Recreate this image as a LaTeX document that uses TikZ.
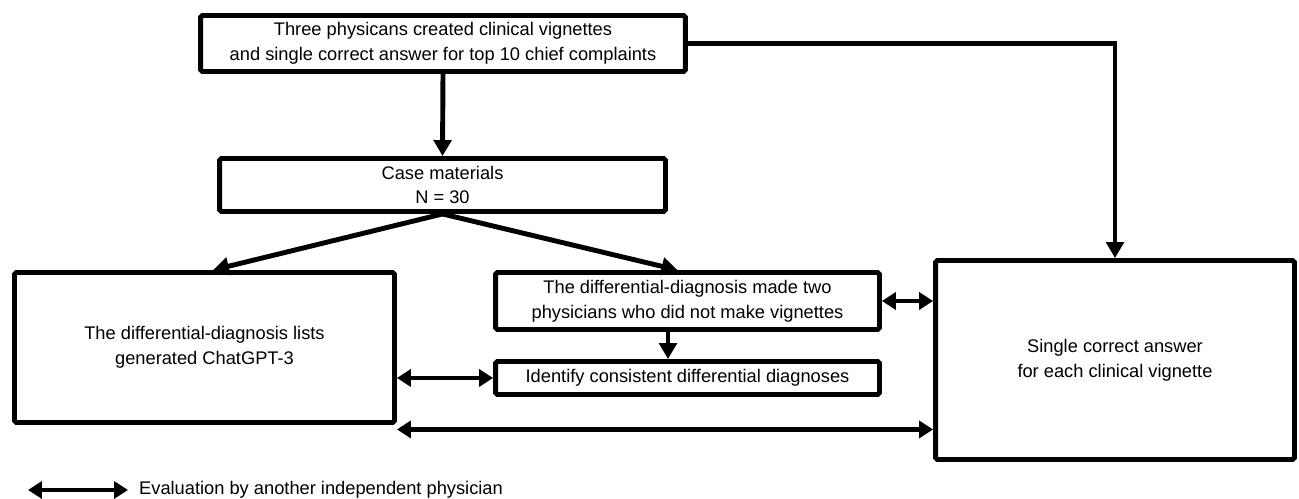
\documentclass[tikz,border=0pt]{standalone}
\usepackage{fontspec}
\setmainfont{Liberation Sans}
\usetikzlibrary{arrows.meta, positioning}

\begin{document}
\begin{tikzpicture}[
    x=0.02cm,
    y=-0.02cm,
    font=\fontsize{10.4}{14}\selectfont,
    box/.style={
        draw,
        line width=2.8pt,
        rounded corners=1pt,
        fill=white,
        align=center,
        inner sep=0pt
    },
    arr/.style={
        -{Triangle[length=3.2mm, width=3.5mm]},
        line width=2.8pt
    },
    both/.style={
        {Triangle[length=2.8mm, width=3.4mm]}-{Triangle[length=2.8mm, width=3.4mm]},
        line width=2.8pt
    }
]

\useasboundingbox (0,0) rectangle (1299,499);

% Kasser
\node[box, minimum width=9.7cm, minimum height=1.12cm] (top) at (443,43.5)
    {Three physicans created clinical vignettes\\
     and single correct answer for top 10 chief complaints};

\node[box, minimum width=8.92cm, minimum height=1.06cm] (case) at (442.5,185)
    {Case materials\\N = 30};

\node[box, minimum width=7.6cm, minimum height=3.0cm] (gpt) at (204.5,347.5)
    {The differential-diagnosis lists\\generated ChatGPT-3};

\node[box, minimum width=7.68cm, minimum height=1.14cm] (diff) at (687.5,301)
    {The differential-diagnosis made two\\physicians who did not make vignettes};

\node[box, minimum width=7.68cm, minimum height=0.66cm] (ident) at (687.5,378)
    {Identify consistent differential diagnoses};

\node[box, minimum width=7.18cm, minimum height=3.98cm] (answer) at (1115,360)
    {Single correct answer\\for each clinical vignette};

% Pile
\draw[arr] (top.south) -- (case.north);
\draw[arr] (top.east) -| (answer.north);

\draw[arr] (case.south) -- ([xshift=1.7mm]gpt.north);
\draw[arr] (case.south) -- ([xshift=-2mm]diff.north);

\draw[arr] ([xshift=-3.9mm]diff.south) -- ([xshift=-3.9mm]ident.north);

% Vurdering
\draw[both] (diff.east) -- (diff.east -| answer.west);
\draw[both] (ident.west -| gpt.east) -- (ident.west);

\coordinate (low) at ([yshift=-0.9mm]gpt.south east);
\draw[both] (low) -- (low -| answer.west);

% Forklaring
\coordinate (keyl) at (28,490);
\coordinate (keyr) at (128,490);
\draw[both] (keyl) -- (keyr);
\node[right=0.1cm of keyr] (keytext) {Evaluation by another independent physician};

\end{tikzpicture}
\end{document}
